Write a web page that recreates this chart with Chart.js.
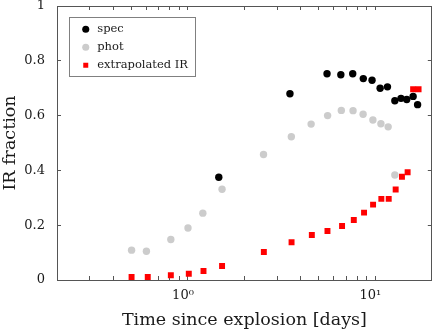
<!DOCTYPE html>
<html>
<head>
<title>IR fraction</title>
<script src="https://cdn.jsdelivr.net/npm/chart.js"></script>
<style>
  body { margin: 0; background: #fff; }
  #wrap { width: 436px; height: 333px; }
</style>
</head>
<body>
<div id="wrap"><canvas id="myChart" width="436" height="333"></canvas></div>
<script>
// values (days since explosion, IR fraction)
var specDays = [1.46, 3.5, 5.52, 6.54, 7.57, 8.62, 9.6, 10.6, 11.6, 12.7, 13.7, 14.7, 15.9, 16.8];
var specFrac = [0.375, 0.680, 0.753, 0.749, 0.753, 0.735, 0.729, 0.700, 0.705, 0.654, 0.663, 0.659, 0.670, 0.640];

var photDays = [0.50, 0.60, 0.81, 1.0, 1.2, 1.52, 2.53, 3.56, 4.54, 5.56, 6.58, 7.6, 8.6, 9.7, 10.7, 11.7, 12.7];
var photFrac = [0.109, 0.105, 0.148, 0.190, 0.244, 0.331, 0.458, 0.523, 0.569, 0.600, 0.619, 0.618, 0.605, 0.584, 0.570, 0.559, 0.383];

var irDays = [0.50, 0.61, 0.81, 1.01, 1.21, 1.52, 2.54, 3.57, 4.58, 5.55, 6.64, 7.67, 8.7, 9.72, 10.76, 11.78, 12.83, 13.86, 14.86, 15.9, 17.0];
var irFrac = [0.011, 0.011, 0.017, 0.023, 0.033, 0.051, 0.102, 0.138, 0.164, 0.179, 0.197, 0.219, 0.246, 0.275, 0.296, 0.296, 0.330, 0.377, 0.393, 0.696, 0.696];

var seriesNames = ['spec', 'phot', 'extrapolated IR'];

// log axis tick positions and the two labelled decades
var xTickValues = [0.2, 0.3, 0.4, 0.5, 0.6, 0.7, 0.8, 0.9, 1, 2, 3, 4, 5, 6, 7, 8, 9, 10, 20];
var xTickLabels = { 1: '10\u2070', 10: '10\u00b9' };

function toPoints(xs, ys) {
  var pts = [];
  for (var i = 0; i < xs.length; i++) pts.push({ x: xs[i], y: ys[i] });
  return pts;
}

var axisColor = '#555';
var textColor = '#1a1a1a';
var serif = 'DejaVu Serif';
var legendSize = 11.5;
var legendPad = 6.5;

function setLogTicks(scale) {
  scale.ticks = xTickValues.map(function (v) {
    return { value: v, major: v === 1 || v === 10 };
  });
}

// fixed axis sizes, no extra label overhang padding
function fitSize(w, h) {
  return function (s) {
    if (w !== null) s.width = w;
    if (h !== null) s.height = h;
    s.paddingTop = 0; s.paddingBottom = 0;
    s.paddingLeft = 0; s.paddingRight = 0;
  };
}

// move the legend inside the plot and frame it
var legendFrame = {
  id: 'legendFrame',
  afterLayout: function (chart) {
    var lg = chart.legend;
    var dx = chart.chartArea.left + 16.5 - lg.left;
    var dy = chart.chartArea.top + 11 - lg.top;
    lg.left += dx; lg.right += dx;
    lg.top += dy; lg.bottom += dy;
  },
  afterDraw: function (chart) {
    var lg = chart.legend;
    var ctx = chart.ctx;
    ctx.save();
    ctx.font = legendSize + 'px "' + serif + '"';
    var textW = 0;
    seriesNames.forEach(function (n) { textW = Math.max(textW, ctx.measureText(n).width); });
    var left = lg.left - 4.5;
    var top = lg.top;
    var right = lg.left + legendPad + legendSize * 1.5 + textW + 7;
    var bottom = lg.top + seriesNames.length * (legendSize + legendPad) + 5;
    ctx.strokeStyle = '#808080';
    ctx.lineWidth = 1;
    ctx.strokeRect(Math.round(left) + 0.5, Math.round(top) + 0.5, Math.round(right - left), Math.round(bottom - top));
    ctx.restore();
  }
};

var ctx = document.getElementById('myChart').getContext('2d');
var chart = new Chart(ctx, {
  type: 'scatter',
  data: {
    datasets: [{
      label: seriesNames[0],
      data: toPoints(specDays, specFrac),
      pointStyle: 'circle',
      pointRadius: 3.7,
      backgroundColor: '#000000',
      borderColor: '#000000',
      borderWidth: 0
    }, {
      label: seriesNames[1],
      data: toPoints(photDays, photFrac),
      pointStyle: 'circle',
      pointRadius: 3.7,
      backgroundColor: '#cccccc',
      borderColor: '#cccccc',
      borderWidth: 0
    }, {
      label: seriesNames[2],
      data: toPoints(irDays, irFrac),
      pointStyle: 'rect',
      pointRadius: 4.2,
      backgroundColor: '#ff0000',
      borderColor: '#ff0000',
      borderWidth: 0
    }]
  },
  options: {
    responsive: false,
    animation: false,
    layout: { padding: { top: 6, right: 3, left: 0, bottom: 0 } },
    plugins: {
      tooltip: { enabled: false },
      legend: {
        position: 'chartArea',
        align: 'start',
        labels: {
          usePointStyle: true,
          boxWidth: legendSize,
          boxHeight: 5,
          padding: legendPad,
          color: textColor,
          font: { family: serif, size: legendSize }
        }
      }
    },
    scales: {
      x: {
        type: 'logarithmic',
        position: 'bottom',
        min: 0.2,
        max: 20,
        afterBuildTicks: setLogTicks,
        afterFit: fitSize(null, 53),
        border: { color: axisColor, width: 1 },
        grid: { drawOnChartArea: false, drawTicks: true, tickLength: -4, color: axisColor },
        ticks: {
          autoSkip: false,
          maxRotation: 0,
          padding: 12,
          labelOffset: -5,
          color: textColor,
          font: { family: serif, size: 13 },
          callback: function (v) { return xTickLabels[v] || ''; }
        },
        title: {
          display: true,
          text: 'Time since explosion [days]',
          color: textColor,
          font: { family: serif, size: 17.5 },
          padding: { top: 0, bottom: 2 }
        }
      },
      x2: {
        type: 'logarithmic',
        axis: 'x',
        position: 'top',
        min: 0.2,
        max: 20,
        afterBuildTicks: setLogTicks,
        afterFit: fitSize(null, 0),
        border: { color: axisColor, width: 1 },
        grid: { drawOnChartArea: false, drawTicks: true, tickLength: -4, color: axisColor },
        ticks: { display: false, autoSkip: false }
      },
      y: {
        type: 'linear',
        position: 'left',
        min: 0,
        max: 1,
        afterFit: fitSize(57, null),
        border: { color: axisColor, width: 1 },
        grid: { drawOnChartArea: false, drawTicks: true, tickLength: -4, color: axisColor },
        ticks: {
          stepSize: 0.2,
          padding: 16,
          color: textColor,
          font: { family: serif, size: 13 },
          callback: function (v) { return String(Math.round(v * 10) / 10); }
        },
        title: {
          display: true,
          text: 'IR fraction',
          color: textColor,
          font: { family: serif, size: 17.5 },
          padding: 0
        }
      },
      y2: {
        type: 'linear',
        axis: 'y',
        position: 'right',
        min: 0,
        max: 1,
        afterFit: fitSize(0, null),
        border: { color: axisColor, width: 1 },
        grid: { drawOnChartArea: false, drawTicks: true, tickLength: -4, color: axisColor },
        ticks: { display: false, stepSize: 0.2 }
      }
    }
  },
  plugins: [legendFrame]
});
</script>
</body>
</html>
